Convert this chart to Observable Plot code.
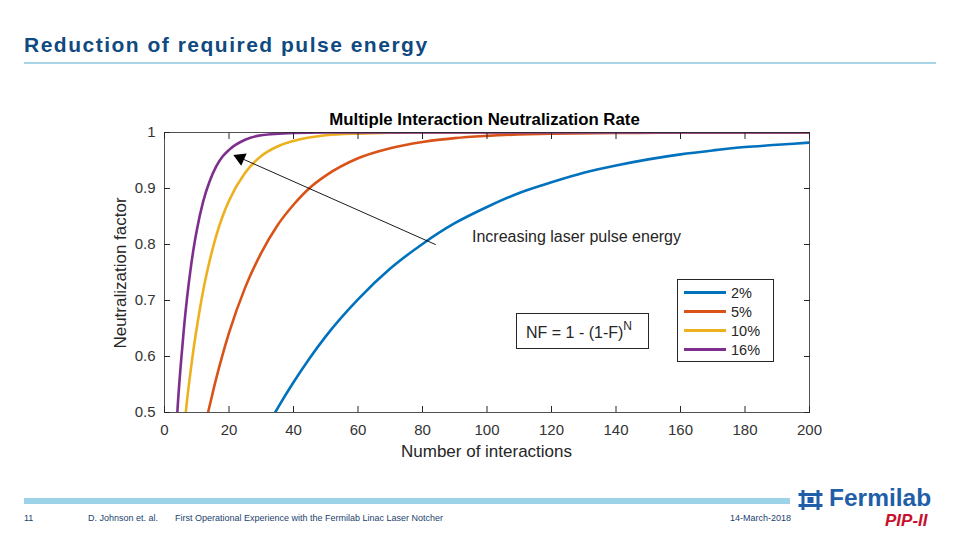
<!DOCTYPE html>
<html><head><meta charset="utf-8">
<script src="https://cdn.jsdelivr.net/npm/d3@7"></script>
<script src="https://cdn.jsdelivr.net/npm/@observablehq/plot@0.6"></script>
<style>
body{margin:0;width:960px;height:540px;position:relative;background:#fff;font-family:"Liberation Sans",Arial,sans-serif;overflow:hidden}
.abs{position:absolute;white-space:nowrap}
#title{left:24px;top:33px;font-size:21px;font-weight:bold;color:#0f4a80;letter-spacing:1.5px}
#rule{left:24px;top:62px;width:912px;height:2px;background:#a9d3e6}
#bar{left:24px;top:498px;width:766px;height:6px;background:#9dd3e9}
.foot{top:513px;font-size:9px;color:#1c3f6e}
#plot{position:absolute;left:0;top:0}
.ann{font-size:16px;color:#262626}
#nf{left:516px;top:313px;width:131px;height:34px;border:1px solid #262626;background:#fff;box-sizing:content-box}
#nf span{position:absolute;left:9px;top:7px;font-size:16px;color:#262626}
#leg{left:677px;top:279px;width:95px;height:81px;border:1px solid #262626;background:#fff}
.li{position:absolute;left:6px;height:14px;font-size:14.5px;color:#262626}
.li i{display:inline-block;width:42px;height:3px;vertical-align:middle;margin-right:5px;position:relative;top:-2px}
#pt{left:0;width:969px;text-align:center;top:110px;font-weight:bold;font-size:16.8px;color:#000}
#xl{left:0;width:973px;text-align:center;top:442px;font-size:17px;color:#262626}
#yl{left:121px;top:273px;font-size:17px;color:#262626;transform:translate(-50%,-50%) rotate(-90deg)}
</style></head>
<body>
<div class="abs" id="title">Reduction of required pulse energy</div>
<div class="abs" id="rule"></div>
<div id="plot"></div>
<div class="abs" id="pt">Multiple Interaction Neutralization Rate</div>
<div class="abs" id="xl">Number of interactions</div>
<div class="abs" id="yl">Neutralization factor</div>
<div class="abs ann" style="left:472px;top:228px">Increasing laser pulse energy</div>
<div class="abs" id="nf"><span>NF = 1 - (1-F)<sup style="font-size:12px;position:relative;top:-2px">N</sup></span></div>
<div class="abs" id="leg"></div>
<div class="abs" id="bar"></div>
<div class="abs foot" style="left:24px">11</div>
<div class="abs foot" style="left:88px">D. Johnson et. al.</div>
<div class="abs foot" style="left:175px">First Operational Experience with the Fermilab Linac Laser Notcher</div>
<div class="abs foot" style="left:730px">14-March-2018</div>
<div class="abs" style="left:798px;top:490px">
<svg width="25" height="20" viewBox="0 0 24 20"><g fill="#1f5ea8"><rect x="0" y="3" width="24" height="3"/><rect x="0" y="14" width="24" height="3"/><rect x="3" y="0" width="3" height="20"/><rect x="18" y="0" width="3" height="20"/><rect x="9" y="7" width="6" height="6"/></g></svg></div>
<div class="abs" style="left:829px;top:484px;font-size:24.5px;font-weight:bold;color:#1f5ea8">Fermilab</div>
<div class="abs" style="left:885px;top:511px;font-size:17px;font-weight:bold;font-style:italic;color:#c8102e">PIP-II</div>
<script>
const seriesNames = ["2%", "5%", "10%", "16%"];
const seriesColors = ["#0072bd", "#d95319", "#edb120", "#7e2f8e"];
// values: [N, neutralization factor]
const nf2 = [[34.3,0.5],[35,0.507],[40,0.554],[45,0.597],[50,0.636],[60,0.702],[70,0.757],[80,0.801],[90,0.838],[100,0.867],[110,0.892],[120,0.911],[130,0.928],[140,0.941],[150,0.952],[160,0.961],[170,0.968],[180,0.974],[190,0.978],[200,0.982]];
const nf5 = [[13.5,0.5],[14,0.512],[16,0.560],[18,0.603],[20,0.642],[25,0.723],[30,0.785],[35,0.834],[40,0.871],[45,0.901],[50,0.923],[60,0.954],[70,0.972],[80,0.983],[90,0.990],[100,0.994],[120,0.998],[140,0.999],[160,1.0],[200,1.0]];
const nf10 = [[6.6,0.5],[7,0.522],[8,0.570],[9,0.613],[10,0.651],[12,0.718],[14,0.771],[16,0.815],[18,0.850],[20,0.878],[25,0.928],[30,0.958],[35,0.975],[40,0.985],[50,0.995],[60,0.998],[80,1.0],[200,1.0]];
const nf16 = [[3.98,0.5],[4,0.502],[5,0.582],[6,0.649],[7,0.705],[8,0.752],[9,0.792],[10,0.825],[12,0.877],[14,0.913],[16,0.939],[18,0.957],[20,0.969],[25,0.987],[30,0.995],[40,0.999],[50,1.0],[200,1.0]];
const xTicks = [0,20,40,60,80,100,120,140,160,180,200];
const yTicks = [0.5,0.6,0.7,0.8,0.9,1];
const arrowStart = {x:84, y:0.80};
const arrowEnd = {x:22.6, y:0.957};

const allSeries = [nf2, nf5, nf10, nf16];
const data = allSeries.flatMap((s, i) => s.map(([n, v]) => ({n, v, s: seriesNames[i]})));

const ink = "#262626";
const chart = Plot.plot({
  width: 960, height: 540,
  marginLeft: 164, marginRight: 151, marginTop: 132, marginBottom: 128,
  style: {fontFamily: "'Liberation Sans', Arial, sans-serif", fontSize: "15px", color: ink, background: "transparent"},
  x: {domain: [0, 200]},
  y: {domain: [0.5, 1]},
  color: {domain: seriesNames, range: seriesColors},
  marks: [
    Plot.line(data, {x: "n", y: "v", z: "s", stroke: "s", strokeWidth: 2.6, curve: "monotone-x", clip: true}),
    Plot.frame({stroke: ink, strokeOpacity: 0.8}),
    Plot.axisX({ticks: xTicks, tickSize: -6, text: null, stroke: ink}),
    Plot.axisX({anchor: "top", ticks: xTicks, tickSize: -6, text: null, label: null, stroke: ink}),
    Plot.axisX({ticks: xTicks, tickSize: 0, tickPadding: 12, label: null, fill: "#333", fontSize: 15}),
    Plot.axisY({ticks: yTicks, tickSize: -6, text: null, stroke: ink}),
    Plot.axisY({anchor: "right", ticks: yTicks, tickSize: -6, text: null, label: null, stroke: ink}),
    Plot.axisY({ticks: yTicks, tickSize: 0, tickPadding: 9, label: null, fill: "#333", fontSize: 15, tickFormat: d => String(d)}),
    Plot.arrow([{x1: arrowStart.x, y1: arrowStart.y, x2: arrowEnd.x, y2: arrowEnd.y}], {x1: "x1", y1: "y1", x2: "x2", y2: "y2", stroke: "#000", strokeWidth: 0.9, headLength: 0, bend: 0}),
    Plot.dot([arrowEnd], {x: "x", y: "y", symbol: "triangle", r: 5, fill: "#000", stroke: "none", rotate: -66, dx: 3, dy: 1.5})
  ]
});
document.getElementById("plot").appendChild(chart);

const leg = document.getElementById("leg");
seriesNames.forEach((name, i) => {
  const d = document.createElement("div");
  d.className = "li";
  d.style.top = (5 + i * 19) + "px";
  d.innerHTML = `<i style="background:${seriesColors[i]}"></i>${name}`;
  leg.appendChild(d);
});
</script>
</body></html>
